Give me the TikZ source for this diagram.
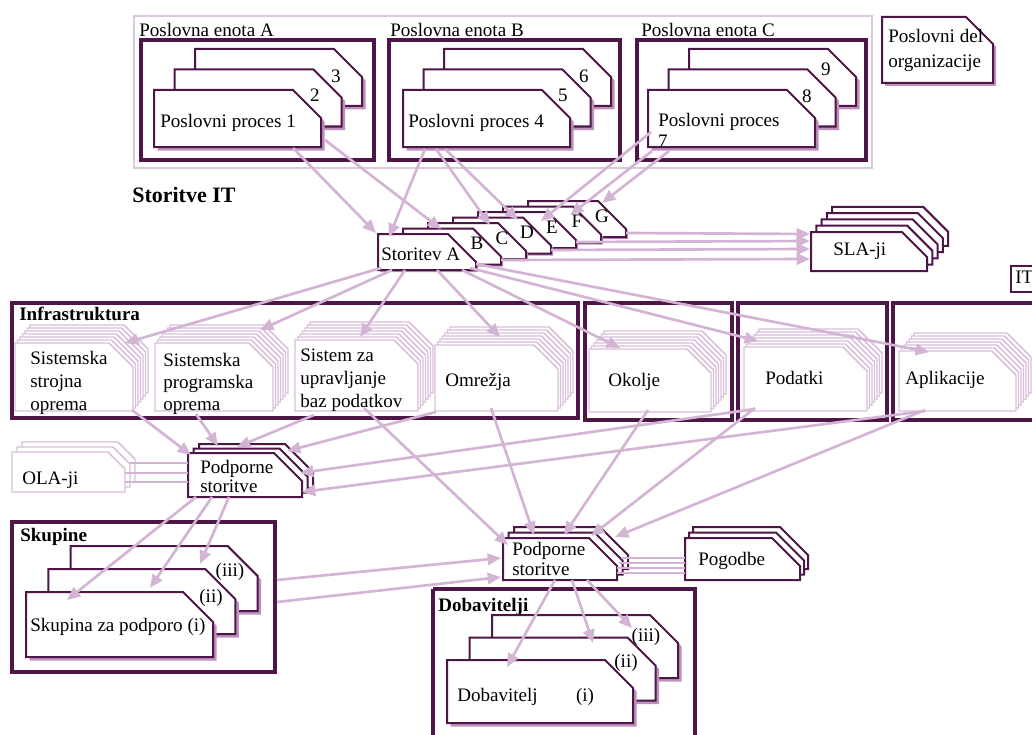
\documentclass[tikz,border=0pt]{standalone}
\usepackage{fontspec}
\setmainfont{Liberation Serif}
\usetikzlibrary{arrows.meta}
\definecolor{dk}{HTML}{4E1646}
\definecolor{shd}{HTML}{BC92BB}
\definecolor{arr}{HTML}{D4B4D4}
\definecolor{lt}{HTML}{D9C0D9}
\definecolor{fr}{HTML}{DCC8DC}
\newcommand{\cutpoly}[6][]{\draw[#1] (#2,#3) -- ({#2+#4-#6},#3) -- ({#2+#4},{#3+#6}) -- ({#2+#4},{#3+#5}) -- (#2,{#3+#5}) -- cycle;}
% list, x, y, w, h, cut, dx, dy, shadow
\newcommand{\dkstack}[9]{%
  \foreach \k in {#1}{%
    \pgfmathsetmacro{\sx}{#2+\k*(#7)}%
    \pgfmathsetmacro{\sy}{#3+\k*(#8)}%
    \cutpoly[draw=none,fill=shd,shift={(#9,#9)}]{\sx}{\sy}{#4}{#5}{#6}%
    \cutpoly[dkbox]{\sx}{\sy}{#4}{#5}{#6}%
  }}
\newcommand{\ltstack}[8]{%
  \foreach \k in {#1}{%
    \pgfmathsetmacro{\sx}{#2+\k*(#7)}%
    \pgfmathsetmacro{\sy}{#3+\k*(#8)}%
    \cutpoly[ltbox]{\sx}{\sy}{#4}{#5}{#6}%
  }}
\begin{document}
\begin{tikzpicture}[x=0.75pt,y=-0.75pt,
  dkframe/.style={draw=dk,line width=2.3pt},
  dkbox/.style={draw=dk,line width=1.5pt,fill=white},
  ltbox/.style={draw=lt,line width=1.1pt,fill=white},
  txt/.style={font=\fontsize{14.3}{16}\selectfont,inner sep=0pt,text height=9.5pt,text depth=3pt},
  btxt/.style={txt,font=\fontsize{14.3}{16}\selectfont\bfseries},
  ar/.style={draw=arr,line width=2pt,-{Triangle[length=10pt,width=8.5pt]}},
  ln/.style={draw=arr,line width=2pt}]
\useasboundingbox (0,0) rectangle (1032,735);
\fill[white] (0,0) rectangle (1032,735);

% ---------- business part ----------
\draw[fr,line width=2.2pt] (134,16) rectangle (872,168);
\draw[dkframe] (141,40) rectangle (374,160);
\draw[dkframe] (389,40) rectangle (620,160);
\draw[dkframe] (637,40) rectangle (866,160);
\node[txt,anchor=base west] (ua) at (139,37) {Poslovna enota A};
\node[txt,anchor=base west] (ub) at (390,37) {Poslovna enota B};
\node[txt,anchor=base west] (uc) at (641,37) {Poslovna enota C};
\dkstack{2,1,0}{154}{90}{167}{57}{28}{20.5}{-20.5}{3.5}
\dkstack{2,1,0}{403}{90}{167}{57}{28}{20.5}{-20.5}{3.5}
\dkstack{2,1,0}{648}{90}{167}{57}{28}{20.5}{-20.5}{3.5}
\node[txt,anchor=west] (pp1) at (160,123) {Poslovni proces 1};
\node[txt] (l2) at (315,97) {2};
\node[txt] (l3) at (336,78) {3};
\node[txt,anchor=west] (pp4) at (408,123) {Poslovni proces 4};
\node[txt] (l5) at (563,97) {5};
\node[txt] (l6) at (584,78) {6};
\node[txt,anchor=west] (pp7) at (658,122) {Poslovni proces};
\node[txt] (l7) at (663,143) {7};
\node[txt] (l8) at (807,98) {8};
\node[txt] (l9) at (826,71) {9};
\dkstack{0}{882}{17}{111}{66}{27}{0}{0}{3}
\node[txt,anchor=west] (pd1) at (888,38) {Poslovni del};
\node[txt,anchor=west] (pd2) at (888,63) {organizacije};

% ---------- IT services ----------
\node[btxt,font=\fontsize{16.5}{18}\selectfont\bfseries,anchor=west] (sit) at (132,198) {Storitve IT};
\dkstack{6,5,4,3,2,1,0}{378}{234}{98}{36}{28}{25}{-5.5}{2}
\node[txt,anchor=west] (sa) at (381,256) {Storitev A};
\node[txt] (sb) at (477,245.5) {B};
\node[txt] (sc) at (502,240) {C};
\node[txt] (sd) at (527,234.5) {D};
\node[txt] (se) at (552,229) {E};
\node[txt] (sf) at (577,223.5) {F};
\node[txt] (sg) at (602,218) {G};
\dkstack{4,3,2,1,0}{811}{232}{116}{39}{25}{5.3}{-6.3}{0}
\node[txt,anchor=west] (sla) at (833,251) {SLA-ji};
\draw[draw=dk,line width=1.5pt] (1011,266) rectangle (1045,292);
\node[txt,anchor=west] (it) at (1015,279) {IT};

% ---------- infrastructure ----------
\draw[dkframe] (12,303) rectangle (578,418);
\draw[dkframe] (585,303) rectangle (732,420);
\draw[dkframe] (738,303) rectangle (887,420);
\draw[dkframe] (893,303) rectangle (1045,420);
\node[btxt,anchor=west] (inf) at (19,316) {Infrastruktura};
\ltstack{6,5,4,3,2,1,0}{15}{343}{118}{68}{24}{2.5}{-3}
\ltstack{6,5,4,3,2,1,0}{155}{343}{118}{68}{24}{2.5}{-3}
\ltstack{6,5,4,3,2,1,0}{295}{340}{123}{71}{24}{2.5}{-3}
\ltstack{6,5,4,3,2,1,0}{435}{345}{123}{66}{24}{2.5}{-3}
\ltstack{6,5,4,3,2,1,0}{589}{349}{122}{63}{24}{2.5}{-3}
\ltstack{6,5,4,3,2,1,0}{744}{347}{123}{64}{24}{2.5}{-3}
\ltstack{6,5,4,3,2,1,0}{899}{351}{117}{60}{24}{2.5}{-3}
\node[txt,anchor=west] (s1a) at (30,360) {Sistemska};
\node[txt,anchor=west] (s1b) at (30,383) {strojna};
\node[txt,anchor=west] (s1c) at (30,406) {oprema};
\node[txt,anchor=west] (s2a) at (163,362) {Sistemska};
\node[txt,anchor=west] (s2b) at (163,384) {programska};
\node[txt,anchor=west] (s2c) at (163,406) {oprema};
\node[txt,anchor=west] (s3a) at (300,357) {Sistem za};
\node[txt,anchor=west] (s3b) at (300,380) {upravljanje};
\node[txt,anchor=west] (s3c) at (300,403) {baz podatkov};
\node[txt,anchor=west] (s4) at (445,382) {Omrežja};
\node[txt,anchor=west] (ok) at (608,382) {Okolje};
\node[txt,anchor=west] (pod) at (765,380) {Podatki};
\node[txt,anchor=west] (apl) at (905,380) {Aplikacije};

% ---------- support ----------
\ltstack{2,1,0}{12}{452}{113}{40}{17}{5}{-5}
\node[txt,anchor=west] (ola) at (22,480) {OLA-ji};
\dkstack{2,1,0}{188}{453}{114}{44}{28}{5.5}{-4.5}{0}
\node[txt,anchor=west] (p1a) at (200,469) {Podporne};
\node[txt,anchor=west] (p1b) at (200,488) {storitve};
\dkstack{2,1,0}{503}{538}{114}{42}{28}{5.5}{-5.5}{0}
\node[txt,anchor=west] (p2a) at (512,551) {Podporne};
\node[txt,anchor=west] (p2b) at (512,571) {storitve};
\dkstack{2,1,0}{685}{538}{115}{42}{28}{4}{-5.5}{0}
\node[txt,anchor=west] (pog) at (698,561) {Pogodbe};

\draw[dkframe] (12,522) rectangle (275,672);
\node[btxt,anchor=west] (sku) at (20,537) {Skupine};
\dkstack{2,1,0}{26}{592}{187}{65}{30}{22.3}{-23}{3.5}
\node[txt] (k3) at (230,572) {(iii)};
\node[txt] (k2) at (211,598) {(ii)};
\node[txt,anchor=west] (k1) at (30,627) {Skupina za podporo (i)};

\draw[dkframe] (433,589) -- (695,589) -- (695,745) (433,745) -- (433,589);
\node[btxt,anchor=west] (dob) at (438,607) {Dobavitelji};
\dkstack{2,1,0}{447}{660}{186}{63}{28}{22.5}{-22.5}{3.5}
\node[txt] (d3) at (646,637) {(iii)};
\node[txt] (d2) at (626,663) {(ii)};
\node[txt,anchor=west] (d1) at (457,697) {Dobavitelj};
\node[txt] (d1i) at (585,697) {(i)};

% ---------- connector end points ----------
\coordinate (a1) at (293,148);  \coordinate (b1) at (376,233);
\coordinate (a2) at (325,140);  \coordinate (b2) at (441,229);
\coordinate (a3) at (425,149);  \coordinate (b3) at (389,237);
\coordinate (a4) at (436,149);  \coordinate (b4) at (490,225);
\coordinate (a5) at (445,149);  \coordinate (b5) at (518,220);
\coordinate (a6) at (651,132);  \coordinate (b6) at (541,221);
\coordinate (a7) at (652,151);  \coordinate (b7) at (570,215);
\coordinate (a8) at (669,151);  \coordinate (b8) at (602,203);

\coordinate (c1) at (626,233);  \coordinate (e1) at (810,234);
\coordinate (c2) at (576,242);  \coordinate (e2) at (810,241);
\coordinate (c3) at (551,250);  \coordinate (e3) at (810,249);
\coordinate (c4) at (501,260);  \coordinate (e4) at (810,259);

\coordinate (f1) at (381,268);  \coordinate (g1) at (125,343);
\coordinate (f2) at (392,270);  \coordinate (g2) at (260,330);
\coordinate (f3) at (405,270);  \coordinate (g3) at (360,337);
\coordinate (f4) at (437,270);  \coordinate (g4) at (500,337);
\coordinate (f5) at (462,270);  \coordinate (g5) at (620,348);
\coordinate (f6) at (470,268);  \coordinate (g6) at (758,341);
\coordinate (f7) at (476,264);  \coordinate (g7) at (929,352);

\coordinate (h1) at (132,410);  \coordinate (i1) at (191,455);
\coordinate (h2) at (196,414);  \coordinate (i2) at (218,446);
\coordinate (h3) at (314,415);  \coordinate (i3) at (237,447);
\coordinate (h4) at (436,412);  \coordinate (i4) at (287,451);
\coordinate (h5) at (755,409);  \coordinate (i5) at (300,473);
\coordinate (h6) at (925,411);  \coordinate (i6) at (302,492);

\coordinate (j1) at (364,408);  \coordinate (m1) at (508,545);
\coordinate (j2) at (491,408);  \coordinate (m2) at (534,535);
\coordinate (j3) at (648,410);  \coordinate (m3) at (564,535);
\coordinate (j4) at (755,408);  \coordinate (m4) at (591,536);
\coordinate (j5) at (925,410);  \coordinate (m5) at (615,537);

\coordinate (n1) at (277,580);  \coordinate (o1) at (501,558);
\coordinate (n2) at (277,602);  \coordinate (o2) at (501,577);

\coordinate (q1) at (196,497);  \coordinate (r1) at (67,600);
\coordinate (q2) at (212,497);  \coordinate (r2) at (150,588);
\coordinate (q3) at (229,497);  \coordinate (r3) at (200,564);

\coordinate (t1) at (555,580);  \coordinate (u1) at (507,667);
\coordinate (t2) at (572,580);  \coordinate (u2) at (593,643);
\coordinate (t3) at (587,580);  \coordinate (u3) at (632,628);

\coordinate (v1) at (130,463);  \coordinate (w1) at (188,463);
\coordinate (v2) at (125,473);  \coordinate (w2) at (188,473);
\coordinate (v3) at (125,482);  \coordinate (w3) at (188,482);

\coordinate (x1) at (621,558);  \coordinate (y1) at (685,558);
\coordinate (x2) at (619,563);  \coordinate (y2) at (685,563);
\coordinate (x3) at (617,568);  \coordinate (y3) at (685,568);
\coordinate (x4) at (617,573);  \coordinate (y4) at (685,573);

% ---------- connectors ----------
\foreach \s/\t in {a1/b1,a2/b2,a3/b3,a4/b4,a5/b5,a6/b6,a7/b7,a8/b8,
  c1/e1,c2/e2,c3/e3,c4/e4,
  f1/g1,f2/g2,f3/g3,f4/g4,f5/g5,f6/g6,f7/g7,
  h1/i1,h2/i2,h3/i3,h4/i4,h5/i5,h6/i6,
  j1/m1,j2/m2,j3/m3,j4/m4,j5/m5,
  n1/o1,n2/o2,q1/r1,q2/r2,q3/r3,t1/u1,t2/u2,t3/u3}
  {\draw[ar] (\s) -- (\t);}
\foreach \s/\t in {v1/w1,v2/w2,v3/w3,x1/y1,x2/y2,x3/y3,x4/y4}
  {\draw[ln] (\s) -- (\t);}
\end{tikzpicture}
\end{document}
